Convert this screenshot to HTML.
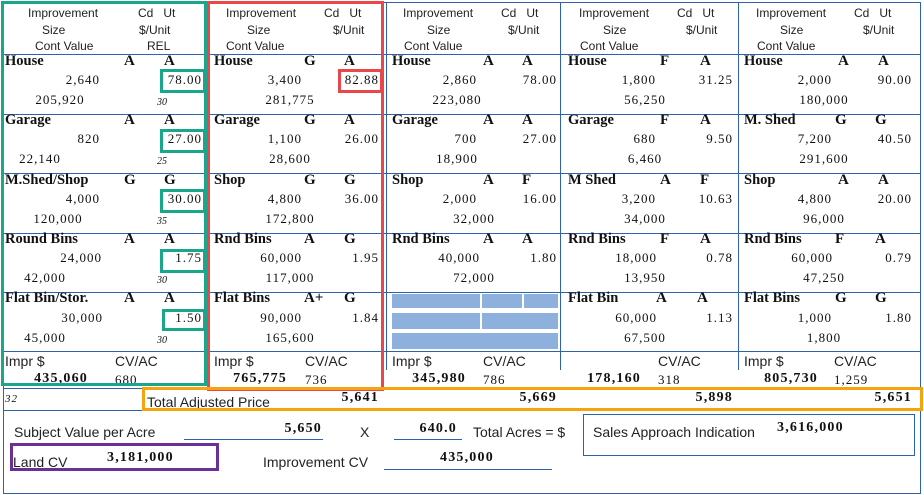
<!DOCTYPE html>
<html><head><meta charset="utf-8"><style>
body{margin:0;background:#fff;width:924px;height:495px;position:relative;overflow:hidden;font-family:"Liberation Serif",serif;color:#111}
div{position:absolute;white-space:nowrap;line-height:16px}
.h{font-family:"Liberation Sans",sans-serif;font-size:12px;color:#222}
.n{font-weight:bold;font-size:14.5px}
.c{font-weight:bold;font-size:15px}
.v{font-size:13px;letter-spacing:1px}
.r{text-align:right;width:100px}
.m{text-align:center;width:120px}
.s{font-size:10px;font-style:italic}
.b{font-weight:bold;font-size:14px;letter-spacing:1.2px}
.hl{height:0;border-top:1px solid #2e62ad}
.vl{width:0;border-left:1.5px solid #2e62ad}
.bx{border:3px solid}
.t{font-family:"Liberation Sans",sans-serif;font-size:14px;color:#222}
.blu{background:#8db0dc}
</style></head><body>
<div class="hl" style="left:3px;top:2px;width:918px"></div>
<div class="hl" style="left:3px;top:54px;width:918px"></div>
<div class="hl" style="left:3px;top:114px;width:918px"></div>
<div class="hl" style="left:3px;top:173px;width:918px"></div>
<div class="hl" style="left:3px;top:233px;width:918px"></div>
<div class="hl" style="left:3px;top:292px;width:918px"></div>
<div class="hl" style="left:3px;top:351px;width:918px"></div>
<div class="hl" style="left:3px;top:410px;width:918px"></div>
<div class="hl" style="left:3px;top:493px;width:918px"></div>
<div class="vl" style="left:3px;top:2px;height:491px"></div>
<div class="vl" style="left:920px;top:2px;height:491px"></div>
<div class="vl" style="left:386px;top:2px;height:368px"></div>
<div class="vl" style="left:560px;top:2px;height:368px"></div>
<div class="vl" style="left:738px;top:2px;height:368px"></div>
<div class="vl" style="left:207px;top:2px;height:386px"></div>

<div class="h" style="left:28px;top:5px">Improvement</div><div class="h" style="left:138px;top:5px">Cd&nbsp;&nbsp;&nbsp;Ut</div>
<div class="h" style="left:42px;top:22px">Size</div><div class="h" style="left:139px;top:22px">$/Unit</div>
<div class="h" style="left:35px;top:38px">Cont Value</div><div class="h" style="left:147px;top:38px">REL</div>
<div class="h" style="left:226px;top:5px">Improvement</div><div class="h" style="left:324px;top:5px">Cd&nbsp;&nbsp;&nbsp;Ut</div>
<div class="h" style="left:247px;top:22px">Size</div><div class="h" style="left:333px;top:22px">$/Unit</div>
<div class="h" style="left:226px;top:38px">Cont Value</div>
<div class="h" style="left:403px;top:5px">Improvement</div><div class="h" style="left:501px;top:5px">Cd&nbsp;&nbsp;&nbsp;Ut</div>
<div class="h" style="left:427px;top:22px">Size</div><div class="h" style="left:508px;top:22px">$/Unit</div>
<div class="h" style="left:404px;top:38px">Cont Value</div>
<div class="h" style="left:579px;top:5px">Improvement</div><div class="h" style="left:677px;top:5px">Cd&nbsp;&nbsp;&nbsp;Ut</div>
<div class="h" style="left:603px;top:22px">Size</div><div class="h" style="left:686px;top:22px">$/Unit</div>
<div class="h" style="left:580px;top:38px">Cont Value</div>
<div class="h" style="left:756px;top:5px">Improvement</div><div class="h" style="left:854px;top:5px">Cd&nbsp;&nbsp;&nbsp;Ut</div>
<div class="h" style="left:780px;top:22px">Size</div><div class="h" style="left:863px;top:22px">$/Unit</div>
<div class="h" style="left:757px;top:38px">Cont Value</div>

<div class="n" style="left:5px;top:53px">House</div><div class="c" style="left:124px;top:53px">A</div><div class="c" style="left:164px;top:53px">A</div>
<div class="v r" style="left:0px;top:72px">2,640</div><div class="v r" style="left:102px;top:72px">78.00</div>
<div class="v m" style="left:0px;top:92px">205,920</div><div class="s" style="left:157px;top:95px">30</div>
<div class="n" style="left:5px;top:112px">Garage</div><div class="c" style="left:124px;top:112px">A</div><div class="c" style="left:164px;top:112px">A</div>
<div class="v r" style="left:0px;top:131px">820</div><div class="v r" style="left:102px;top:131px">27.00</div>
<div class="v m" style="left:-20px;top:151px">22,140</div><div class="s" style="left:157px;top:154px">25</div>
<div class="n" style="left:5px;top:172px">M.Shed/Shop</div><div class="c" style="left:124px;top:172px">G</div><div class="c" style="left:164px;top:172px">G</div>
<div class="v r" style="left:0px;top:191px">4,000</div><div class="v r" style="left:102px;top:191px">30.00</div>
<div class="v m" style="left:-2px;top:211px">120,000</div><div class="s" style="left:157px;top:214px">35</div>
<div class="n" style="left:5px;top:231px">Round Bins</div><div class="c" style="left:124px;top:231px">A</div><div class="c" style="left:164px;top:231px">A</div>
<div class="v r" style="left:2px;top:250px">24,000</div><div class="v r" style="left:102px;top:250px">1.75</div>
<div class="v m" style="left:-15px;top:270px">42,000</div><div class="s" style="left:157px;top:273px">30</div>
<div class="n" style="left:5px;top:290px">Flat Bin/Stor.</div><div class="c" style="left:124px;top:290px">A</div><div class="c" style="left:164px;top:290px">A</div>
<div class="v r" style="left:3px;top:310px">30,000</div><div class="v r" style="left:102px;top:310px">1.50</div>
<div class="v m" style="left:-15px;top:330px">45,000</div><div class="s" style="left:157px;top:333px">30</div>

<div class="n" style="left:214px;top:53px">House</div><div class="c" style="left:304px;top:53px">G</div><div class="c" style="left:344px;top:53px">A</div>
<div class="v r" style="left:202px;top:72px">3,400</div><div class="v r" style="left:279px;top:72px">82.88</div>
<div class="v m" style="left:230px;top:92px">281,775</div>
<div class="n" style="left:214px;top:112px">Garage</div><div class="c" style="left:304px;top:112px">G</div><div class="c" style="left:344px;top:112px">A</div>
<div class="v r" style="left:202px;top:131px">1,100</div><div class="v r" style="left:279px;top:131px">26.00</div>
<div class="v m" style="left:230px;top:151px">28,600</div>
<div class="n" style="left:214px;top:172px">Shop</div><div class="c" style="left:304px;top:172px">G</div><div class="c" style="left:344px;top:172px">G</div>
<div class="v r" style="left:202px;top:191px">4,800</div><div class="v r" style="left:279px;top:191px">36.00</div>
<div class="v m" style="left:230px;top:211px">172,800</div>
<div class="n" style="left:214px;top:231px">Rnd Bins</div><div class="c" style="left:304px;top:231px">A</div><div class="c" style="left:344px;top:231px">G</div>
<div class="v r" style="left:202px;top:250px">60,000</div><div class="v r" style="left:279px;top:250px">1.95</div>
<div class="v m" style="left:230px;top:270px">117,000</div>
<div class="n" style="left:214px;top:290px">Flat Bins</div><div class="c" style="left:304px;top:290px">A+</div><div class="c" style="left:344px;top:290px">G</div>
<div class="v r" style="left:202px;top:310px">90,000</div><div class="v r" style="left:279px;top:310px">1.84</div>
<div class="v m" style="left:230px;top:330px">165,600</div>

<div class="n" style="left:392px;top:53px">House</div><div class="c" style="left:483px;top:53px">A</div><div class="c" style="left:522px;top:53px">A</div>
<div class="v r" style="left:377px;top:72px">2,860</div><div class="v r" style="left:457px;top:72px">78.00</div>
<div class="v m" style="left:397px;top:92px">223,080</div>
<div class="n" style="left:392px;top:112px">Garage</div><div class="c" style="left:483px;top:112px">A</div><div class="c" style="left:522px;top:112px">A</div>
<div class="v r" style="left:377px;top:131px">700</div><div class="v r" style="left:457px;top:131px">27.00</div>
<div class="v m" style="left:397px;top:151px">18,900</div>
<div class="n" style="left:392px;top:172px">Shop</div><div class="c" style="left:483px;top:172px">A</div><div class="c" style="left:522px;top:172px">F</div>
<div class="v r" style="left:377px;top:191px">2,000</div><div class="v r" style="left:457px;top:191px">16.00</div>
<div class="v m" style="left:414px;top:211px">32,000</div>
<div class="n" style="left:392px;top:231px">Rnd Bins</div><div class="c" style="left:483px;top:231px">A</div><div class="c" style="left:522px;top:231px">A</div>
<div class="v r" style="left:380px;top:250px">40,000</div><div class="v r" style="left:457px;top:250px">1.80</div>
<div class="v m" style="left:414px;top:270px">72,000</div>
<div class="blu" style="left:392px;top:294px;width:88px;height:14px"></div><div class="blu" style="left:482px;top:294px;width:40px;height:14px"></div><div class="blu" style="left:524px;top:294px;width:34px;height:14px"></div>
<div class="blu" style="left:392px;top:313px;width:88px;height:16px"></div><div class="blu" style="left:482px;top:313px;width:76px;height:16px"></div>
<div class="blu" style="left:392px;top:333px;width:166px;height:16px"></div>

<div class="n" style="left:568px;top:53px">House</div><div class="c" style="left:660px;top:53px">F</div><div class="c" style="left:700px;top:53px">A</div>
<div class="v r" style="left:556px;top:72px">1,800</div><div class="v r" style="left:633px;top:72px">31.25</div>
<div class="v m" style="left:585px;top:92px">56,250</div>
<div class="n" style="left:568px;top:112px">Garage</div><div class="c" style="left:660px;top:112px">F</div><div class="c" style="left:700px;top:112px">A</div>
<div class="v r" style="left:556px;top:131px">680</div><div class="v r" style="left:633px;top:131px">9.50</div>
<div class="v m" style="left:585px;top:151px">6,460</div>
<div class="n" style="left:568px;top:172px">M Shed</div><div class="c" style="left:660px;top:172px">A</div><div class="c" style="left:700px;top:172px">F</div>
<div class="v r" style="left:556px;top:191px">3,200</div><div class="v r" style="left:633px;top:191px">10.63</div>
<div class="v m" style="left:585px;top:211px">34,000</div>
<div class="n" style="left:568px;top:231px">Rnd Bins</div><div class="c" style="left:660px;top:231px">F</div><div class="c" style="left:700px;top:231px">A</div>
<div class="v r" style="left:557px;top:250px">18,000</div><div class="v r" style="left:633px;top:250px">0.78</div>
<div class="v m" style="left:585px;top:270px">13,950</div>
<div class="n" style="left:568px;top:290px">Flat Bin</div><div class="c" style="left:656px;top:290px">A</div><div class="c" style="left:697px;top:290px">A</div>
<div class="v r" style="left:557px;top:310px">60,000</div><div class="v r" style="left:633px;top:310px">1.13</div>
<div class="v m" style="left:585px;top:330px">67,500</div>

<div class="n" style="left:744px;top:53px">House</div><div class="c" style="left:838px;top:53px">A</div><div class="c" style="left:878px;top:53px">A</div>
<div class="v r" style="left:732px;top:72px">2,000</div><div class="v r" style="left:812px;top:72px">90.00</div>
<div class="v m" style="left:764px;top:92px">180,000</div>
<div class="n" style="left:744px;top:112px">M. Shed</div><div class="c" style="left:835px;top:112px">G</div><div class="c" style="left:875px;top:112px">G</div>
<div class="v r" style="left:732px;top:131px">7,200</div><div class="v r" style="left:812px;top:131px">40.50</div>
<div class="v m" style="left:764px;top:151px">291,600</div>
<div class="n" style="left:744px;top:172px">Shop</div><div class="c" style="left:838px;top:172px">A</div><div class="c" style="left:878px;top:172px">A</div>
<div class="v r" style="left:732px;top:191px">4,800</div><div class="v r" style="left:812px;top:191px">20.00</div>
<div class="v m" style="left:764px;top:211px">96,000</div>
<div class="n" style="left:744px;top:231px">Rnd Bins</div><div class="c" style="left:835px;top:231px">F</div><div class="c" style="left:875px;top:231px">A</div>
<div class="v r" style="left:733px;top:250px">60,000</div><div class="v r" style="left:812px;top:250px">0.79</div>
<div class="v m" style="left:764px;top:270px">47,250</div>
<div class="n" style="left:744px;top:290px">Flat Bins</div><div class="c" style="left:835px;top:290px">G</div><div class="c" style="left:875px;top:290px">G</div>
<div class="v r" style="left:732px;top:310px">1,000</div><div class="v r" style="left:812px;top:310px">1.80</div>
<div class="v m" style="left:764px;top:330px">1,800</div>

<div class="t" style="left:5px;top:353px">Impr $</div><div class="t" style="left:115px;top:353px">CV/AC</div>
<div class="b r" style="left:-12px;top:371px">435,060</div><div class="v" style="left:115px;top:372px">680</div>
<div class="t" style="left:214px;top:353px">Impr $</div><div class="t" style="left:305px;top:353px">CV/AC</div>
<div class="b r" style="left:187px;top:371px">765,775</div><div class="v" style="left:305px;top:372px">736</div>
<div class="t" style="left:392px;top:353px">Impr $</div><div class="t" style="left:483px;top:353px">CV/AC</div>
<div class="b r" style="left:366px;top:371px">345,980</div><div class="v" style="left:483px;top:372px">786</div>
<div class="t" style="left:658px;top:353px">CV/AC</div>
<div class="b r" style="left:541px;top:371px">178,160</div><div class="v" style="left:658px;top:372px">318</div>
<div class="t" style="left:744px;top:353px">Impr $</div><div class="t" style="left:834px;top:353px">CV/AC</div>
<div class="b r" style="left:718px;top:371px">805,730</div><div class="v" style="left:834px;top:372px">1,259</div>
<div class="hl" style="left:3px;top:388px;width:918px"></div>

<div class="v" style="left:5px;top:391px;font-size:11px;font-style:italic">32</div>
<div class="t" style="left:147px;top:394px">Total Adjusted Price</div>
<div class="b r" style="left:279px;top:390px">5,641</div>
<div class="b r" style="left:457px;top:390px">5,669</div>
<div class="b r" style="left:633px;top:390px">5,898</div>
<div class="b r" style="left:812px;top:390px">5,651</div>

<div class="t" style="left:14px;top:424px">Subject Value per Acre</div>
<div class="hl" style="left:184px;top:439px;width:139px"></div>
<div class="b r" style="left:222px;top:421px">5,650</div>
<div class="t" style="left:360px;top:424px">X</div>
<div class="hl" style="left:394px;top:439px;width:68px"></div>
<div class="b r" style="left:357px;top:421px">640.0</div>
<div class="t" style="left:473px;top:424px">Total Acres = $</div>
<div style="left:583px;top:414px;width:330px;height:40px;border:1px solid #2e62ad"></div>
<div class="t" style="left:593px;top:424px">Sales Approach Indication</div>
<div class="b" style="left:777px;top:420px">3,616,000</div>
<div class="t" style="left:13px;top:454px">Land CV</div>
<div class="hl" style="left:74px;top:469px;width:138px"></div>
<div class="b" style="left:107px;top:450px">3,181,000</div>
<div class="t" style="left:263px;top:454px">Improvement CV</div>
<div class="hl" style="left:384px;top:469px;width:168px"></div>
<div class="b" style="left:440px;top:450px">435,000</div>

<div class="bx" style="left:1px;top:1px;width:200px;height:379px;border-color:#1aa68a"></div>
<div class="bx" style="left:207px;top:1px;width:171px;height:384px;border-color:#ea474b"></div>
<div class="bx" style="left:160px;top:69px;width:40px;height:18px;border-color:#1aa68a"></div>
<div class="bx" style="left:160px;top:129px;width:40px;height:18px;border-color:#1aa68a"></div>
<div class="bx" style="left:160px;top:189px;width:40px;height:18px;border-color:#1aa68a"></div>
<div class="bx" style="left:160px;top:249px;width:40px;height:18px;border-color:#1aa68a"></div>
<div class="bx" style="left:162px;top:309px;width:38px;height:16px;border-color:#1aa68a"></div>
<div class="bx" style="left:338px;top:69px;width:39px;height:18px;border-color:#ea474b"></div>
<div class="bx" style="left:142px;top:387px;width:775px;height:18px;border-color:#f5a30f"></div>
<div class="bx" style="left:10px;top:443px;width:203px;height:22px;border-color:#6a2f98"></div>
</body></html>
